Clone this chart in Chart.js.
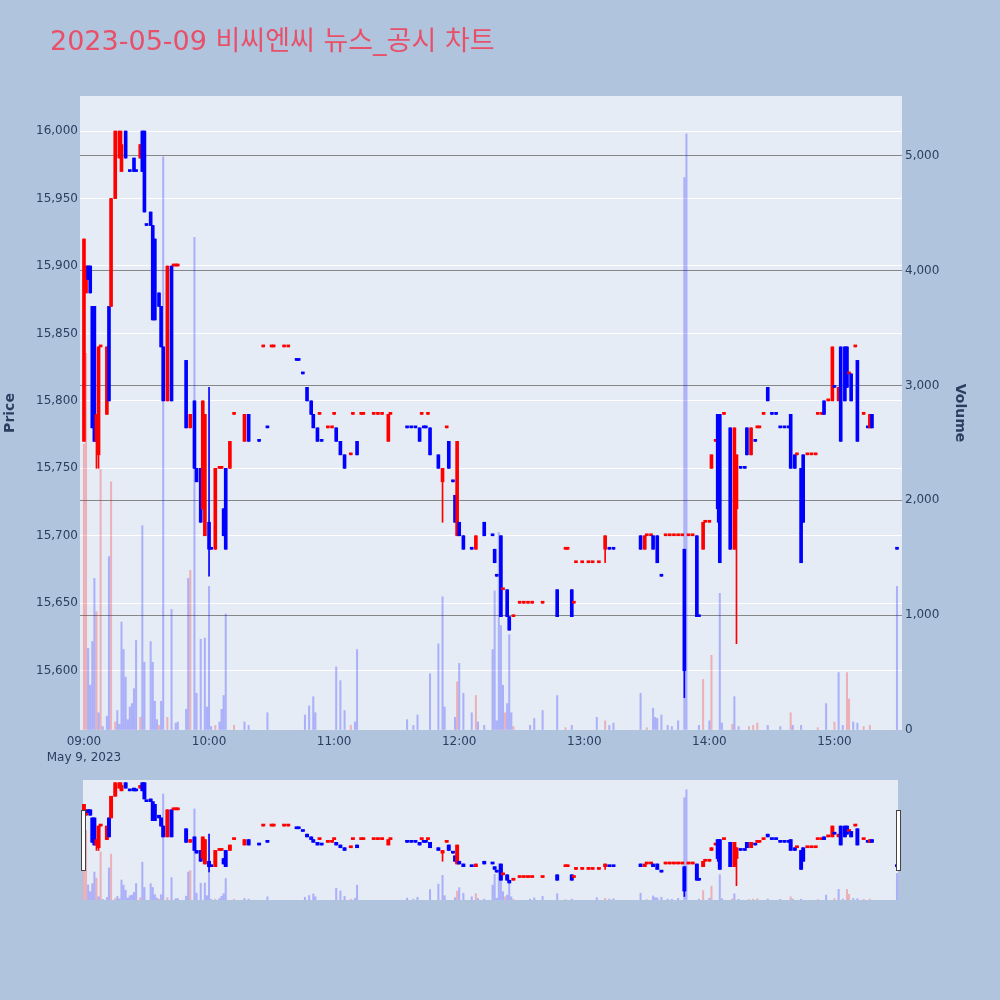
<!DOCTYPE html>
<html>
<head>
<meta charset="utf-8">
<script src="https://cdn.jsdelivr.net/npm/chart.js@4.4.0/dist/chart.umd.min.js"></script>
<style>
  html, body { margin: 0; padding: 0; background: #b0c4de; }
  #wrap { position: relative; width: 1000px; height: 1000px; overflow: hidden; }
  #main { position: absolute; left: 0; top: 0; }
  #slider { position: absolute; left: 80px; top: 780px; }
  #title {
    position: absolute; left: 50px; top: 27px;
    font-family: "DejaVu Sans", "Noto Sans CJK KR", sans-serif;
    font-size: 27px; line-height: 27px; color: #e8506a; white-space: nowrap;
  }
</style>
</head>
<body>
<div id="wrap">
  <canvas id="main" width="1000" height="780"></canvas>
  <div id="title">2023-05-09 비씨엔씨 뉴스_공시 차트</div>
  <canvas id="slider" width="822" height="120"></canvas>
</div>
<script>
// minutes after 09:00
const candleTimes = [0,1,2,3,4,5,6,7,8,11,12,13,15,17,18,20,22,24,25,27,28,29,30,32,33,34,36,37,38,40,42,43,44,45,49,51,53,54,56,57,58,60,61,63,65,66,67,68,70,72,77,79,84,86,88,90,91,96,98,102,103,105,107,109,110,112,113,114,117,119,120,121,123,125,128,129,131,133,134,139,141,143,146,147,155,157,159,161,162,163,164,165,166,170,172,174,175,177,178,179,180,182,186,188,192,196,197,198,200,201,203,204,206,209,211,213,215,220,227,231,232,234,235,236,239,242,244,247,250,252,254,267,269,270,272,273,275,277,279,281,283,285,287,288,290,292,294,295,297,298,300,301,303,304,305,307,310,312,313,315,317,318,320,322,323,324,326,328,330,332,334,336,338,339,341,342,344,345,347,349,351,352,354,355,357,359,360,362,363,365,366,367,368,370,371,374,376,377,378,390];
const opens  = [15770,15880,15900,15900,15870,15870,15770,15760,15840,15790,15870,15870,15950,15980,15970,16000,15970,15980,15970,15980,16000,16000,15930,15940,15930,15920,15880,15870,15840,15800,15900,15900,15900,15900,15830,15780,15800,15750,15750,15720,15700,15710,15690,15690,15750,15750,15720,15750,15750,15790,15770,15790,15770,15840,15780,15840,15840,15840,15840,15830,15830,15820,15810,15800,15790,15780,15790,15770,15780,15780,15790,15780,15770,15760,15760,15790,15770,15790,15790,15790,15790,15790,15770,15790,15780,15780,15780,15780,15790,15780,15780,15790,15780,15760,15740,15780,15770,15740,15730,15700,15710,15700,15690,15690,15710,15700,15690,15670,15700,15660,15660,15640,15640,15650,15650,15650,15650,15650,15660,15690,15690,15660,15650,15680,15680,15680,15680,15680,15690,15690,15690,15700,15690,15700,15700,15700,15700,15670,15700,15700,15700,15700,15700,15690,15700,15700,15700,15640,15690,15710,15710,15750,15770,15790,15790,15790,15780,15690,15720,15750,15750,15780,15760,15770,15780,15780,15790,15810,15790,15790,15780,15780,15780,15790,15760,15760,15750,15760,15760,15760,15760,15790,15790,15800,15800,15800,15810,15800,15840,15840,15840,15820,15820,15840,15830,15790,15780,15780,15790,15690];
const highs  = [15920,15900,15900,15900,15870,15870,15790,15840,15840,15840,15870,15950,16000,16000,16000,16000,15970,15980,15970,15990,16000,16000,15930,15940,15930,15920,15880,15870,15840,15900,15900,15900,15900,15900,15830,15790,15800,15750,15750,15800,15790,15810,15690,15750,15750,15750,15720,15750,15770,15790,15790,15790,15770,15840,15780,15840,15840,15840,15840,15830,15830,15820,15810,15800,15790,15780,15790,15770,15780,15780,15790,15780,15770,15760,15760,15790,15770,15790,15790,15790,15790,15790,15790,15790,15780,15780,15780,15780,15790,15780,15780,15790,15780,15760,15750,15780,15770,15740,15730,15770,15710,15700,15690,15700,15710,15700,15690,15670,15700,15660,15660,15640,15640,15650,15650,15650,15650,15650,15660,15690,15690,15660,15650,15680,15680,15680,15680,15680,15700,15690,15690,15700,15700,15700,15700,15700,15700,15670,15700,15700,15700,15700,15700,15690,15700,15700,15700,15640,15710,15710,15710,15760,15770,15790,15790,15790,15780,15780,15760,15750,15750,15780,15780,15770,15780,15780,15790,15810,15790,15790,15780,15780,15780,15790,15760,15760,15750,15760,15760,15760,15760,15790,15790,15800,15800,15840,15810,15810,15840,15840,15840,15820,15820,15840,15830,15790,15780,15790,15790,15690];
const lows   = [15770,15880,15890,15880,15780,15770,15750,15750,15840,15790,15800,15870,15950,15980,15970,15980,15970,15970,15970,15980,15970,15940,15930,15930,15860,15860,15870,15840,15800,15800,15800,15900,15900,15900,15780,15780,15750,15740,15710,15720,15700,15670,15690,15690,15750,15750,15700,15690,15750,15790,15770,15770,15770,15840,15780,15840,15840,15840,15840,15830,15830,15820,15800,15790,15780,15770,15790,15770,15780,15780,15790,15770,15760,15750,15760,15790,15760,15790,15790,15790,15790,15790,15770,15790,15780,15780,15780,15770,15790,15780,15780,15790,15760,15750,15710,15780,15750,15740,15710,15700,15700,15690,15690,15690,15700,15700,15680,15670,15640,15660,15640,15630,15640,15650,15650,15650,15650,15650,15640,15690,15690,15640,15650,15680,15680,15680,15680,15680,15680,15690,15690,15690,15690,15700,15700,15690,15680,15670,15700,15700,15700,15700,15700,15580,15700,15700,15640,15640,15690,15710,15710,15750,15770,15710,15680,15790,15690,15690,15620,15750,15750,15760,15760,15770,15780,15780,15790,15800,15790,15790,15780,15780,15780,15750,15750,15760,15680,15710,15760,15760,15760,15790,15790,15790,15800,15800,15810,15800,15770,15800,15810,15820,15800,15840,15770,15790,15780,15780,15780,15690];
const closes = [15920,15900,15890,15880,15780,15770,15790,15840,15840,15840,15800,15950,16000,16000,15990,15980,15970,15970,15970,15990,15970,15940,15930,15930,15860,15860,15870,15840,15800,15900,15800,15900,15900,15900,15780,15790,15750,15740,15710,15800,15790,15690,15690,15750,15750,15750,15700,15690,15770,15790,15790,15770,15770,15840,15780,15840,15840,15840,15840,15830,15830,15820,15800,15790,15780,15770,15790,15770,15780,15780,15790,15770,15760,15750,15760,15790,15760,15790,15790,15790,15790,15790,15790,15790,15780,15780,15780,15770,15790,15780,15780,15790,15760,15750,15750,15780,15750,15740,15710,15770,15700,15690,15690,15700,15700,15700,15680,15670,15640,15660,15640,15630,15640,15650,15650,15650,15650,15650,15640,15690,15690,15640,15650,15680,15680,15680,15680,15680,15700,15690,15690,15690,15700,15700,15700,15690,15680,15670,15700,15700,15700,15700,15700,15600,15700,15700,15640,15640,15710,15710,15710,15760,15770,15720,15680,15790,15690,15780,15760,15750,15750,15760,15780,15770,15780,15780,15790,15800,15790,15790,15780,15780,15780,15750,15750,15760,15680,15710,15760,15760,15760,15790,15790,15790,15800,15840,15810,15810,15770,15800,15810,15820,15800,15840,15770,15790,15780,15790,15780,15690];

const volumeTimes = [0,1,2,3,4,5,6,7,8,9,11,12,13,15,16,17,18,19,20,21,22,23,24,25,27,28,29,32,33,34,35,36,37,38,40,42,44,45,49,50,51,53,54,56,58,59,60,61,63,65,66,67,68,72,77,79,88,106,108,110,111,121,123,125,128,130,131,155,158,160,166,170,172,173,178,179,180,182,186,188,189,192,196,197,198,199,200,201,202,203,204,205,206,214,216,220,227,231,234,246,250,252,254,267,270,273,274,275,277,280,282,285,288,289,295,297,300,301,305,306,311,312,314,319,321,323,328,334,339,340,344,352,356,360,362,364,366,367,369,371,374,377,390];
const volumes = [2490,3280,710,390,770,1320,1030,150,2270,30,120,1510,2160,70,170,50,940,700,460,90,200,230,360,780,110,1780,590,770,590,250,90,40,250,4990,110,1050,60,70,180,1320,1390,4290,320,790,800,200,1250,30,40,70,180,300,1010,40,70,40,150,130,210,290,150,550,430,170,40,70,700,90,40,130,490,750,1160,200,110,420,580,320,150,300,70,40,700,1210,80,1720,910,390,150,230,830,150,30,40,100,170,300,20,40,110,80,40,60,320,20,190,110,100,130,40,30,80,4810,5190,40,440,80,650,1190,60,50,290,30,30,40,60,40,30,150,40,40,20,230,70,500,40,500,270,70,60,30,40,1250];
// 1 = rising (red), 0 = falling (blue)
const volumeUp = [1,1,0,0,0,0,1,0,1,0,0,0,1,1,0,0,0,0,0,0,0,0,0,0,1,0,0,0,0,0,0,1,0,0,1,0,0,0,0,0,1,0,0,0,0,0,0,0,1,0,0,0,0,1,0,0,0,0,0,0,0,0,0,0,1,0,0,0,0,0,0,0,0,0,0,1,0,0,0,1,0,0,0,0,0,0,0,0,1,0,0,0,1,0,0,0,0,1,0,0,1,0,0,0,1,0,0,0,0,0,0,0,0,0,0,1,0,1,0,0,1,0,0,1,1,1,0,0,1,0,0,1,0,1,0,0,1,1,0,0,1,1,0];

const timeTicks = [0, 60, 120, 180, 240, 300, 360];
const timeTickLabels = ['09:00', '10:00', '11:00', '12:00', '13:00', '14:00', '15:00'];
const dateLabel = 'May 9, 2023';
const priceTicks = [15600, 15650, 15700, 15750, 15800, 15850, 15900, 15950, 16000];
const volumeTicks = [0, 1000, 2000, 3000, 4000, 5000];

const UP = '#ff0000';
const DOWN = '#0000ff';
const UP_VOL = 'rgba(255,0,0,0.25)';
const DOWN_VOL = 'rgba(0,0,255,0.25)';
const TEXT = '#2a3f5f';

// plotly style: a flat candle takes the direction of the previous close
function candleDirections() {
  const dirs = [];
  for (let i = 0; i < closes.length; i++) {
    let up;
    if (closes[i] > opens[i]) up = true;
    else if (closes[i] < opens[i]) up = false;
    else if (i === 0) up = true;
    else if (closes[i] > closes[i - 1]) up = true;
    else if (closes[i] < closes[i - 1]) up = false;
    else up = dirs[i - 1];
    dirs.push(up);
  }
  return dirs;
}
const dirs = candleDirections();

function makeDatasets(bodyWidth, volWidth) {
  return [
    {
      label: 'Volume', yAxisID: 'yv', stack: 'c', order: 3,
      data: volumeTimes.map((t, i) => ({ x: t, y: volumes[i] })),
      backgroundColor: volumeUp.map(u => u ? UP_VOL : DOWN_VOL),
      barThickness: volWidth, borderWidth: 0
    },
    {
      label: 'Wick', yAxisID: 'y', stack: 'c', order: 2,
      data: candleTimes.map((t, i) => ({ x: t, y: [lows[i], highs[i]] })),
      backgroundColor: dirs.map(u => u ? UP : DOWN),
      barThickness: 1, borderWidth: 0
    },
    {
      label: 'Body', yAxisID: 'y', stack: 'c', order: 1,
      data: candleTimes.map((t, i) => ({ x: t, y: [Math.min(opens[i], closes[i]), Math.max(opens[i], closes[i])] })),
      backgroundColor: dirs.map(u => u ? UP : DOWN),
      barThickness: bodyWidth, borderWidth: 0, minBarLength: 2
    }
  ];
}

const plotBg = {
  id: 'plotBg',
  beforeDraw(chart) {
    const a = chart.chartArea;
    const ctx = chart.ctx;
    ctx.save();
    ctx.fillStyle = '#e5ecf6';
    ctx.fillRect(a.left, a.top, a.right - a.left, a.bottom - a.top);
    ctx.restore();
  }
};

const tickFont = { family: 'DejaVu Sans', size: 12, lineHeight: 1.35 };
const titleFont = { family: 'DejaVu Sans', size: 14, weight: 'bold' };

new Chart(document.getElementById('main'), {
  type: 'bar',
  data: { datasets: makeDatasets(3, 1.4) },
  options: {
    responsive: false,
    animation: false,
    layout: { padding: { top: 96, right: 28, left: 0, bottom: 0 } },
    plugins: { legend: { display: false }, tooltip: { enabled: false } },
    scales: {
      x: {
        type: 'linear', min: -1.9, max: 392.4, offset: false,
        grid: { display: false, offset: false, drawTicks: false }, border: { display: false },
        afterBuildTicks: s => { s.ticks = timeTicks.map(v => ({ value: v })); },
        afterFit: s => { s.height = 50; },
        ticks: {
          color: TEXT, font: tickFont, padding: 4, maxRotation: 0, autoSkip: false,
          callback: v => {
            const i = timeTicks.indexOf(v);
            return i === 0 ? [timeTickLabels[i], dateLabel] : timeTickLabels[i];
          }
        }
      },
      y: {
        position: 'left', min: 15556, max: 16026, stacked: false,
        afterBuildTicks: s => { s.ticks = priceTicks.map(v => ({ value: v })); },
        afterFit: s => { s.width = 80; },
        grid: { color: '#ffffff', lineWidth: 1, drawTicks: false },
        border: { display: false },
        ticks: { color: TEXT, font: tickFont, padding: 2, callback: v => v.toLocaleString('en-US') },
        title: { display: true, text: 'Price', color: TEXT, font: titleFont, padding: { top: 2, bottom: 0 } }
      },
      yv: {
        position: 'right', min: 0, max: 5520, stacked: false,
        afterBuildTicks: s => { s.ticks = volumeTicks.map(v => ({ value: v })); },
        afterFit: s => { s.width = 70; },
        grid: {
          color: c => (c.tick && c.tick.value === 0) ? 'rgba(0,0,0,0)' : 'rgba(110,110,110,0.8)',
          lineWidth: 1, drawTicks: false
        },
        border: { display: false },
        ticks: { color: TEXT, font: tickFont, padding: 3, callback: v => v.toLocaleString('en-US') },
        title: { display: true, text: 'Volume', color: TEXT, font: titleFont, padding: { top: 4, bottom: 0 } }
      }
    }
  },
  plugins: [plotBg]
});

const sliderDecor = {
  id: 'sliderDecor',
  beforeDraw(chart) {
    const ctx = chart.ctx;
    ctx.save();
    ctx.fillStyle = '#e5ecf6';
    ctx.fillRect(3, 0, 815, chart.height);
    ctx.restore();
  },
  afterDraw(chart) {
    const ctx = chart.ctx;
    ctx.save();
    ctx.fillStyle = '#ffffff';
    ctx.strokeStyle = '#444444';
    ctx.lineWidth = 1;
    [1.5, 816.5].forEach(x => {
      ctx.fillRect(x, 30.5, 4, 60);
      ctx.strokeRect(x, 30.5, 4, 60);
    });
    ctx.restore();
  }
};

new Chart(document.getElementById('slider'), {
  type: 'bar',
  data: { datasets: makeDatasets(3.3, 1.4) },
  options: {
    responsive: false,
    animation: false,
    layout: { padding: 0 },
    plugins: { legend: { display: false }, tooltip: { enabled: false } },
    scales: {
      x: { type: 'linear', display: false, min: -1.9, max: 392.4, offset: false },
      y: { display: false, min: 15567, max: 16010, stacked: false },
      yv: { display: false, position: 'right', min: 0, max: 5650, stacked: false }
    }
  },
  plugins: [sliderDecor]
});
</script>
</body>
</html>
